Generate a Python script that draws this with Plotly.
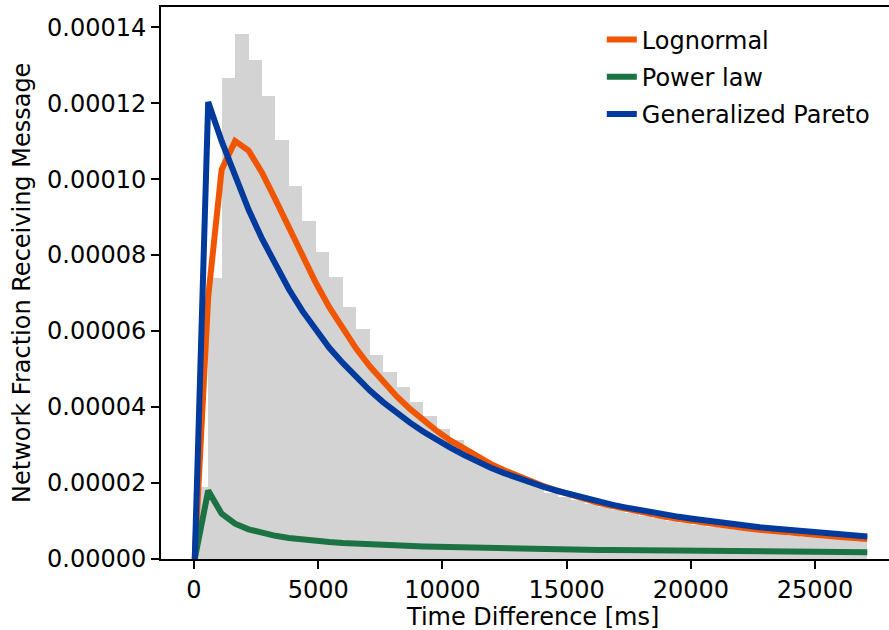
import plotly.graph_objects as go

# Bin edges of the histogram (ms) and the points where the fitted curves are evaluated
edges = [30, 572, 1113, 1655, 2196, 2738, 3279, 3821, 4362, 4904, 5445, 5987, 6528,
         7070, 7611, 8153, 8694, 9236, 9777, 10319, 10860, 11402, 11943, 12485, 13026,
         13568, 14109, 14651, 15192, 15734, 16275, 16817, 17358, 17900, 18441, 18983,
         19524, 20066, 20607, 21149, 21690, 22232, 22773, 23315, 23856, 24398, 24939,
         25481, 26022, 26564, 27105]

# Histogram density per bin (50 bins)
hist_density = [1.90e-5, 7.39e-5, 1.265e-4, 1.383e-4, 1.313e-4, 1.220e-4, 1.102e-4, 9.82e-5,
                8.89e-5, 8.08e-5, 7.42e-5, 6.63e-5, 6.05e-5, 5.38e-5, 4.93e-5, 4.52e-5,
                4.12e-5, 3.76e-5, 3.43e-5, 3.14e-5, 2.75e-5, 2.56e-5, 2.38e-5, 2.22e-5,
                2.06e-5, 1.91e-5, 1.73e-5, 1.64e-5, 1.55e-5, 1.46e-5, 1.36e-5, 1.29e-5,
                1.21e-5, 1.13e-5, 1.07e-5, 1.00e-5, 9.4e-6, 8.9e-6, 8.5e-6, 8.1e-6,
                7.7e-6, 7.3e-6, 6.9e-6, 6.5e-6, 6.05e-6, 5.9e-6, 5.7e-6, 5.6e-6, 5.5e-6, 5.4e-6]

lognormal = [0, 6.9e-5, 1.025e-4, 1.10e-4, 1.075e-4, 1.017e-4, 9.46e-5, 8.71e-5, 7.96e-5,
             7.27e-5, 6.63e-5, 6.06e-5, 5.54e-5, 5.08e-5, 4.66e-5, 4.285e-5, 3.95e-5, 3.64e-5,
             3.37e-5, 3.12e-5, 2.90e-5, 2.69e-5, 2.505e-5, 2.335e-5, 2.18e-5, 2.04e-5, 1.91e-5,
             1.79e-5, 1.68e-5, 1.58e-5, 1.48e-5, 1.40e-5, 1.32e-5, 1.24e-5, 1.175e-5, 1.11e-5,
             1.05e-5, 9.96e-6, 9.44e-6, 8.96e-6, 8.50e-6, 8.08e-6, 7.69e-6, 7.31e-6, 6.97e-6,
             6.64e-6, 6.33e-6, 6.04e-6, 5.77e-6, 5.51e-6, 5.27e-6]

power_law = [0, 1.80e-5, 1.19e-5, 9.3e-6, 7.8e-6, 6.8e-6, 6.1e-6, 5.55e-6, 5.12e-6, 4.77e-6,
             4.48e-6, 4.24e-6, 4.03e-6, 3.85e-6, 3.69e-6, 3.55e-6, 3.42e-6, 3.30e-6, 3.20e-6,
             3.10e-6, 3.01e-6, 2.93e-6, 2.85e-6, 2.78e-6, 2.71e-6, 2.65e-6, 2.59e-6, 2.54e-6,
             2.49e-6, 2.44e-6, 2.39e-6, 2.35e-6, 2.31e-6, 2.27e-6, 2.23e-6, 2.19e-6, 2.16e-6,
             2.12e-6, 2.09e-6, 2.06e-6, 2.03e-6, 2.00e-6, 1.97e-6, 1.95e-6, 1.92e-6, 1.90e-6,
             1.87e-6, 1.85e-6, 1.83e-6, 1.80e-6, 1.78e-6]

gen_pareto = [0, 1.203e-4, 1.10e-4, 1.005e-4, 9.20e-5, 8.43e-5, 7.73e-5, 7.10e-5, 6.53e-5,
              6.02e-5, 5.56e-5, 5.16e-5, 4.78e-5, 4.44e-5, 4.13e-5, 3.85e-5, 3.59e-5, 3.35e-5,
              3.13e-5, 2.93e-5, 2.74e-5, 2.56e-5, 2.40e-5, 2.26e-5, 2.125e-5, 2.005e-5, 1.89e-5,
              1.79e-5, 1.69e-5, 1.60e-5, 1.515e-5, 1.43e-5, 1.36e-5, 1.29e-5, 1.23e-5, 1.17e-5,
              1.11e-5, 1.06e-5, 1.01e-5, 9.62e-6, 9.19e-6, 8.77e-6, 8.38e-6, 8.02e-6, 7.68e-6,
              7.35e-6, 7.04e-6, 6.74e-6, 6.46e-6, 6.20e-6, 5.95e-6]

x_ticks = [0, 5000, 10000, 15000, 20000, 25000]
y_ticks = [0, 0.00002, 0.00004, 0.00006, 0.00008, 0.00010, 0.00012, 0.00014]

bar_centers = [(a + b) / 2 for a, b in zip(edges[:-1], edges[1:])]
bar_widths = [b - a for a, b in zip(edges[:-1], edges[1:])]

FONT = "DejaVu Sans"
LW = 6
fig = go.Figure()
fig.add_trace(go.Bar(x=bar_centers, y=hist_density, width=bar_widths,
                     marker=dict(color="#d3d3d3", line=dict(width=0)),
                     showlegend=False, hoverinfo="skip"))
fig.add_trace(go.Scatter(x=edges, y=lognormal, mode="lines", name="Lognormal",
                         line=dict(color="#f05500", width=LW), legendgroup="a"))
fig.add_trace(go.Scatter(x=edges, y=power_law, mode="lines", name="Power law",
                         line=dict(color="#1b7343", width=LW), legendgroup="b"))
fig.add_trace(go.Scatter(x=edges, y=gen_pareto, mode="lines", name="Generalized Pareto",
                         line=dict(color="#003a9c", width=LW), legendgroup="c"))

fig.update_layout(
    width=889, height=630,
    margin=dict(l=161, r=0, t=7, b=71),
    paper_bgcolor="white", plot_bgcolor="white",
    font=dict(family=FONT, size=24, color="black"),
    bargap=0,
    showlegend=True,
    legend=dict(x=0.6055, y=0.981, xanchor="left", yanchor="top",
                bgcolor="rgba(0,0,0,0)", borderwidth=0, tracegroupgap=3,
                font=dict(family=FONT, size=24, color="black")),
    xaxis=dict(range=[-1328, 27979], tickvals=x_ticks, ticktext=[str(v) for v in x_ticks],
               showgrid=False, zeroline=False, showline=True, linecolor="black",
               linewidth=1.8, mirror=True, ticks="outside", ticklen=8, tickwidth=1.6,
               tickcolor="black", ticklabelstandoff=0, automargin=False),
    yaxis=dict(range=[0, 0.0001453], tickvals=y_ticks,
               ticktext=[f"{v:.5f}" for v in y_ticks],
               showgrid=False, zeroline=False, showline=True, linecolor="black",
               linewidth=1.8, mirror=False, ticks="outside", ticklen=8, tickwidth=1.6,
               tickcolor="black", ticklabelstandoff=0, automargin=False),
    annotations=[
        dict(text="Time Difference [ms]", xref="paper", yref="paper",
             x=(532 - 161) / 728, y=(559 - 617) / 552, xanchor="center", yanchor="middle",
             showarrow=False, font=dict(family=FONT, size=24, color="black")),
        dict(text="Network Fraction Receiving Message", xref="paper", yref="paper",
             x=(22 - 161) / 728, y=0.5, xanchor="center", yanchor="middle", textangle=-90,
             showarrow=False, font=dict(family=FONT, size=24, color="black")),
    ],
)

fig.write_html("out.html")
